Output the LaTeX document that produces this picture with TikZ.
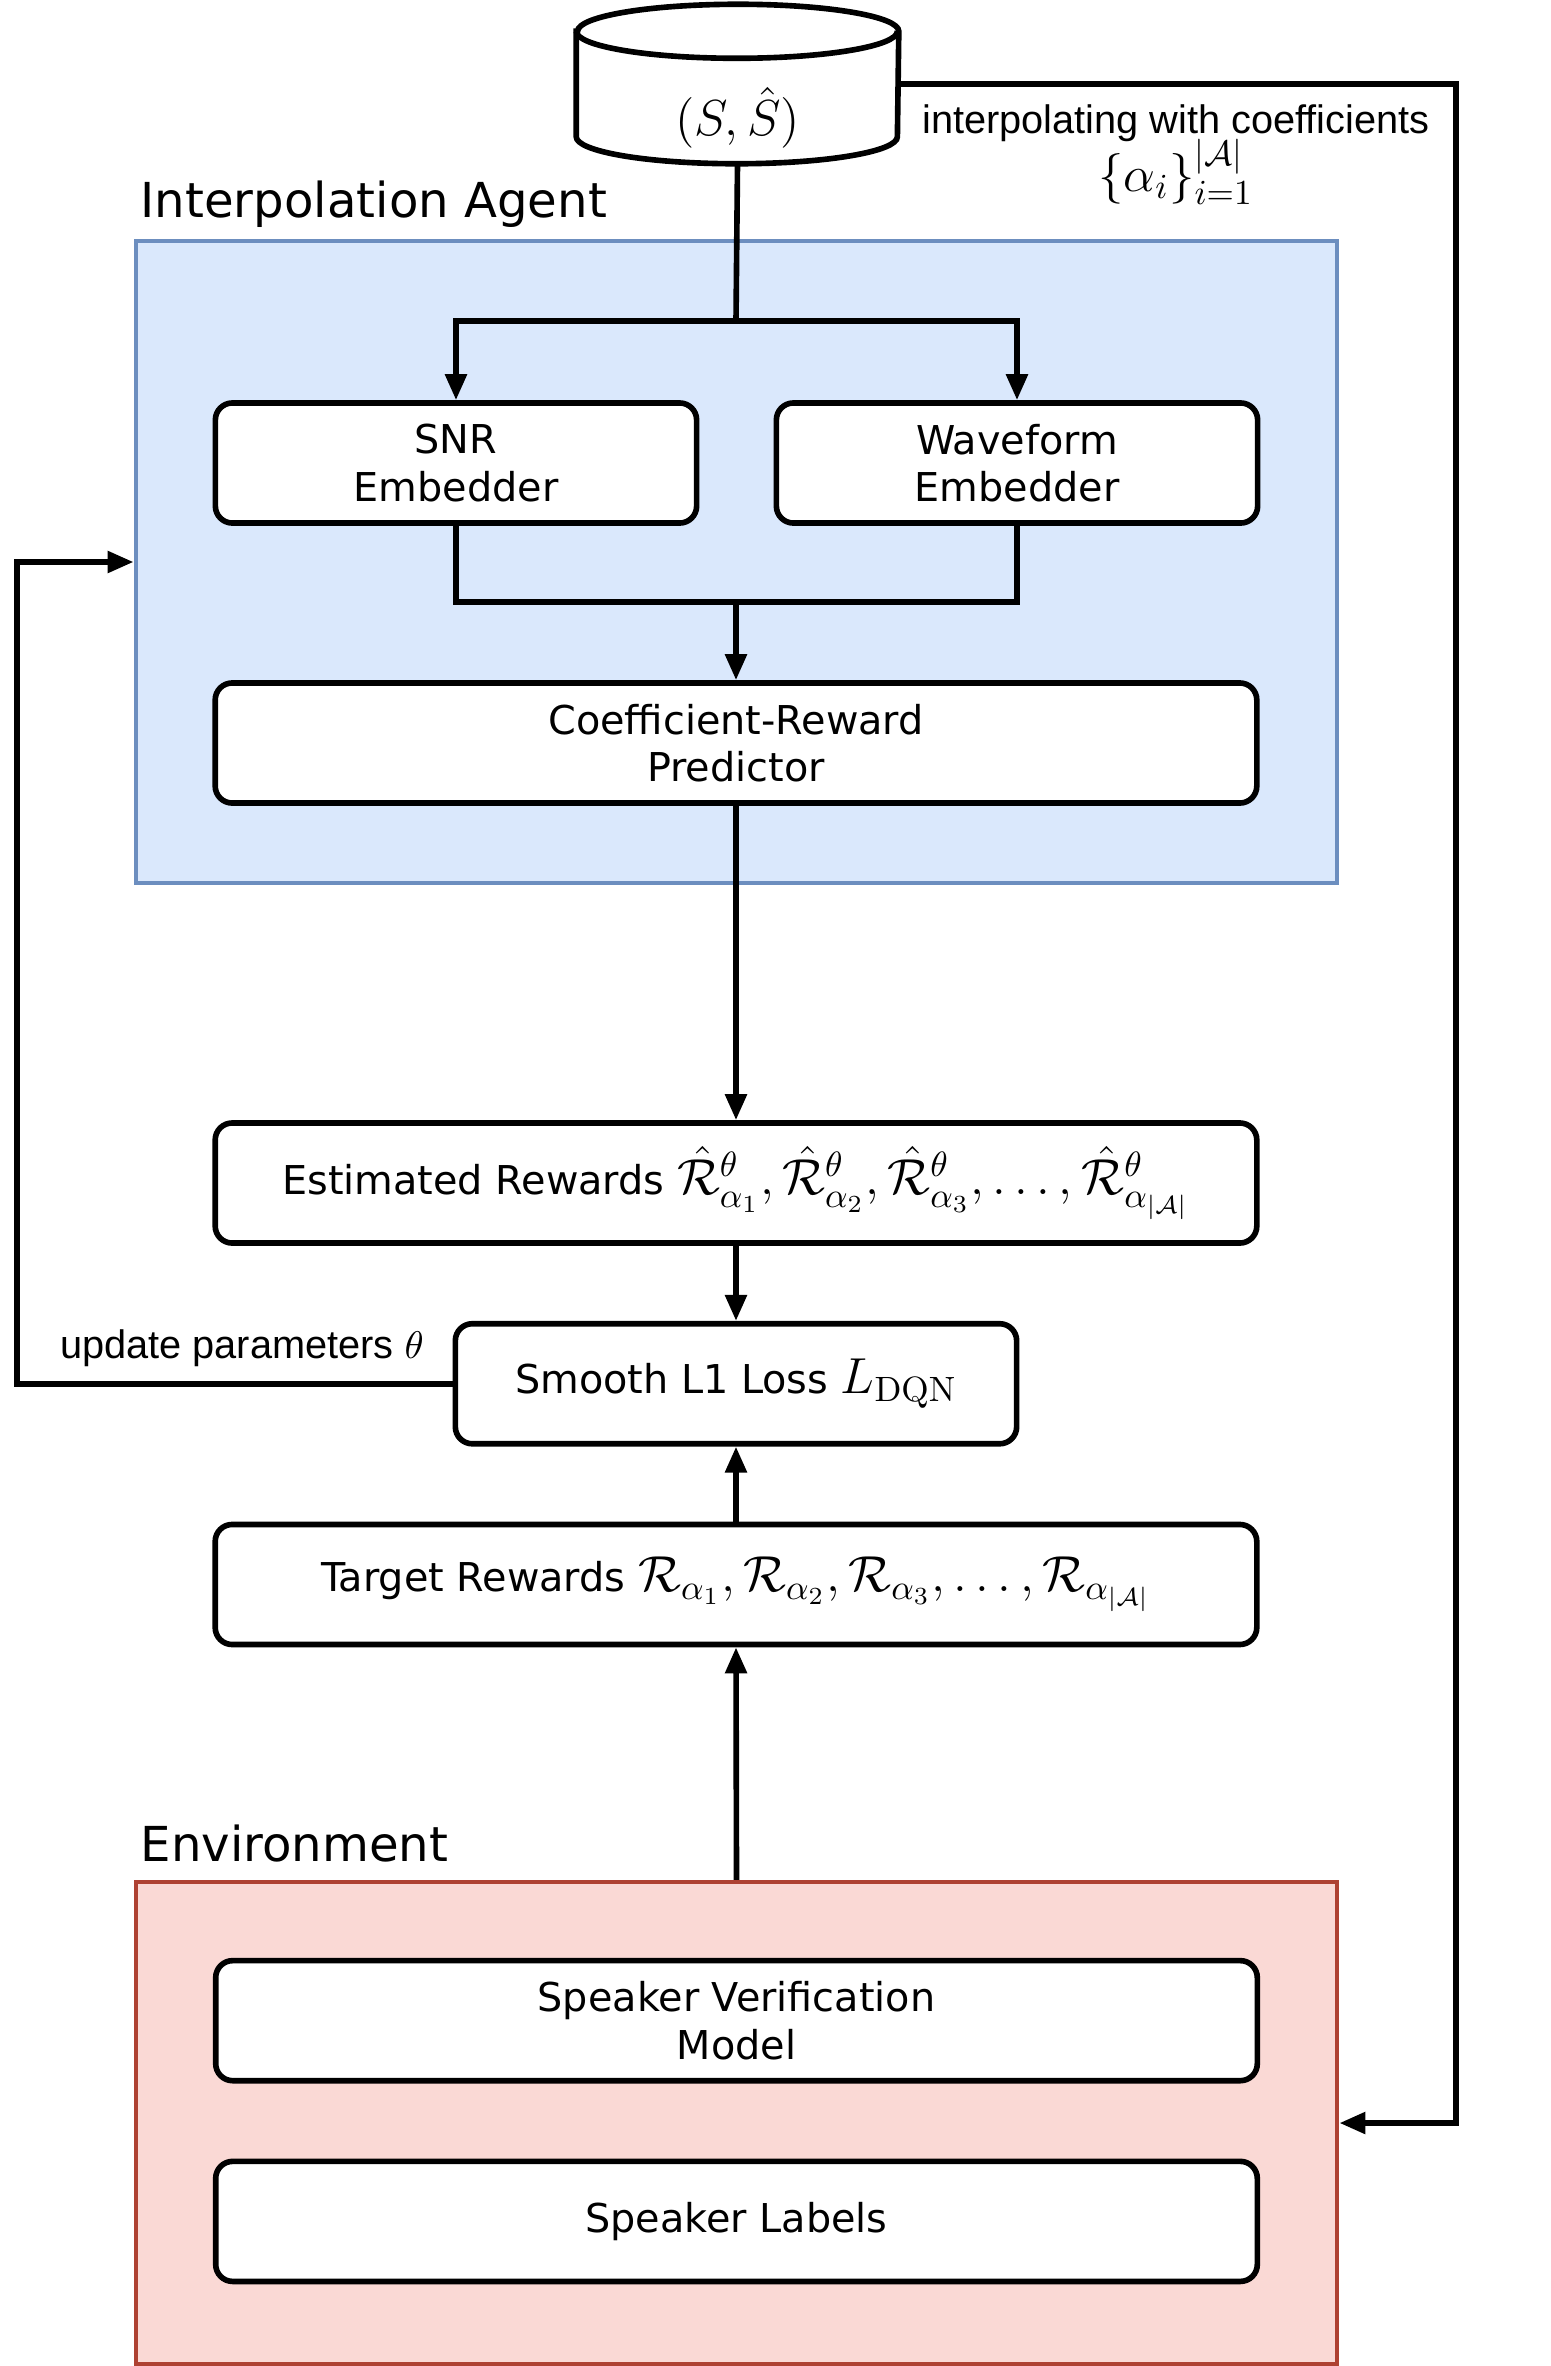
\documentclass[tikz,border=0pt]{standalone}
\usepackage[no-math]{fontspec}
\usepackage{amsmath}
\usepackage{amssymb}
\setmainfont{DejaVu Sans}
\newfontfamily\helv{Liberation Sans}
\usetikzlibrary{positioning,arrows.meta,backgrounds}
\definecolor{agentfill}{HTML}{DAE8FC}
\definecolor{agentdraw}{HTML}{6C8EBF}
\definecolor{envfill}{HTML}{FAD9D5}
\definecolor{envdraw}{HTML}{AE4132}
\newcommand{\bigmath}[1]{{\fontsize{13.7}{16}\selectfont$#1$}}

\begin{document}
\begin{tikzpicture}[
  x=0.01cm, y=-0.01cm,
  font=\fontsize{11.3}{13.4}\selectfont,
  >={Triangle[length=0.26cm,width=0.21cm]},
  block/.style={draw, line width=1.6pt, rounded corners=0.17cm, align=center,
                fill=white, minimum height=1.2cm, inner sep=2pt},
  narrow/.style={block, minimum width=4.81cm},
  wide/.style={block, minimum width=10.41cm},
  group/.style={draw, line width=1.2pt, minimum width=12.01cm},
  title/.style={anchor=west, inner sep=0pt, font=\fontsize{13.7}{16}\selectfont},
  store/.style={minimum width=3.21cm, minimum height=1.58cm, inner sep=0pt},
  note/.style={align=center, font=\helv\fontsize{11.3}{14}\selectfont},
  arrow/.style={->, line width=1.6pt},
  line/.style={line width=1.6pt}
]
\useasboundingbox (0,0) rectangle (1550,2366);

% Groups
\node[group, fill=agentfill, draw=agentdraw, minimum height=6.42cm] (agent) at (736.5,562) {};
\node[title] (agenttitle) at (140,204) {Interpolation Agent};
\node[group, fill=envfill, draw=envdraw, minimum height=4.82cm] (env) at (736.5,2123) {};
\node[title] (envtitle) at (140,1844) {Environment};

% Data
\node[store, label={[yshift=-0.34cm, font=\fontsize{14}{16}\selectfont]center:$(S,\hat{S})$}] (data) at (737.5,84) {};
\begin{scope}[on background layer]
\draw[line, fill=white] ([yshift=-0.27cm]data.north west) -- ([yshift=0.27cm]data.south west)
  arc[start angle=180, end angle=360, x radius=1.605cm, y radius=0.27cm]
  -- ([yshift=-0.27cm]data.north east)
  arc[start angle=0, end angle=180, x radius=1.605cm, y radius=0.27cm] -- cycle;
\draw[line] ([yshift=-0.27cm]data.north west)
  arc[start angle=180, end angle=360, x radius=1.605cm, y radius=0.27cm];
\end{scope}

% Agent
\node[narrow] (snr)  at (456,463)  {SNR\\ Embedder};
\node[narrow] (wave) at (1017,463) {Waveform\\ Embedder};
\node[wide]   (pred) at (736,743)  {Coefficient-Reward\\ Predictor};

% Rewards and loss
\node[wide] (est) at (736,1183)
  {Estimated Rewards \bigmath{\hat{\mathcal{R}}^{\theta}_{\alpha_1},\hat{\mathcal{R}}^{\theta}_{\alpha_2},\hat{\mathcal{R}}^{\theta}_{\alpha_3},\ldots,\hat{\mathcal{R}}^{\theta}_{\alpha_{|\mathcal{A}|}}}};
\node[block, minimum width=5.61cm, below=0.75cm of est] (loss) {Smooth L1 Loss \bigmath{L_{\mathrm{DQN}}}};
\node[wide, below=0.75cm of loss] (target)
  {Target Rewards \bigmath{\mathcal{R}_{\alpha_1},\mathcal{R}_{\alpha_2},\mathcal{R}_{\alpha_3},\ldots,\mathcal{R}_{\alpha_{|\mathcal{A}|}}}};

% Environment
\node[wide, below=0.78cm of env.north] (svm) {Speaker Verification\\ Model};
\node[wide, below=0.75cm of svm] (labels) {Speaker Labels};

% Flows
\coordinate (split) at (736,321);
\coordinate (merge) at (736,602);
\draw[line] (data.south) -- (split);
\draw[arrow] (split) -| (snr.north);
\draw[arrow] (split) -| (wave.north);
\draw[line] (snr.south) |- (merge);
\draw[line] (wave.south) |- (merge);
\draw[arrow] (merge) -- (pred.north);
\draw[arrow] (pred) -- (est);
\draw[arrow] (est) -- (loss);
\draw[arrow] (target) -- (loss);
\draw[arrow] (env.north) -- (target.south);

% Feedback
\coordinate (rightbus) at (1456,0);
\coordinate (leftbus) at (17,0);
\draw[arrow] (data.east) -- (data.east -| rightbus) |- (env.east);
\draw[arrow] (loss.west) -- (loss.west -| leftbus) |- (agent.west);
\node[note] (interp) at (1176,155)
  {interpolating with coefficients\\[-2pt] {\fontsize{14}{16}\selectfont $\{\alpha_i\}_{i=1}^{|\mathcal{A}|}$}};
\node[note] (update) at (242,1348) {update parameters $\theta$};

\end{tikzpicture}
\end{document}
